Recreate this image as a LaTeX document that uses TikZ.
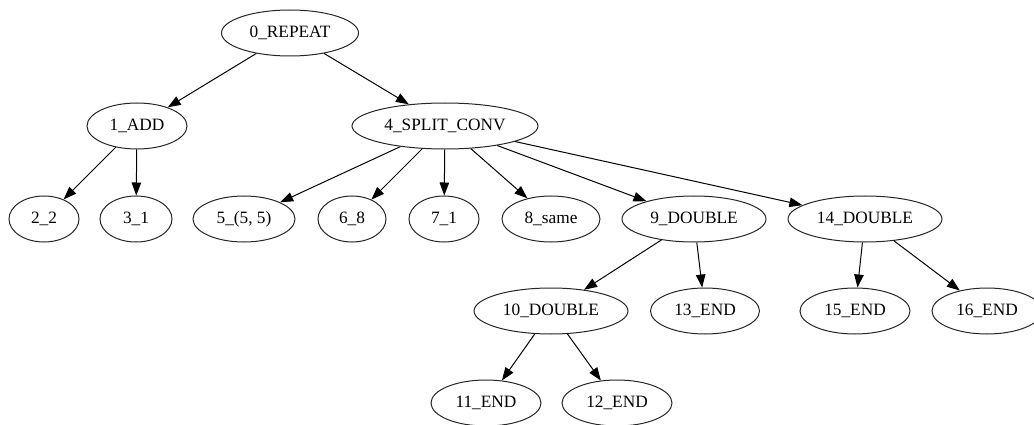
\documentclass[tikz,border=0pt]{standalone}
\usepackage{fontspec}
\setmainfont{Liberation Serif}
\usetikzlibrary{shapes.geometric,arrows.meta}
\tikzset{
  tnode/.style={draw=black!85, line width=1pt, ellipse, inner sep=0pt,
    minimum height=46pt, font=\fontsize{17.3}{19}\selectfont},
  edge/.style={draw=black, line width=1pt,
    -{Triangle[length=13pt,width=9.5pt]}},
}
\begin{document}
\begin{tikzpicture}[x=1pt,y=-1pt]
\useasboundingbox (0,0) rectangle (1034,425);
% rank 0
\node[tnode, minimum width=137pt] (n0) at (290,33) {0\_REPEAT};
% rank 1
\node[tnode, minimum width=100pt] (n1) at (137,126) {1\_ADD};
\node[tnode, minimum width=186pt] (n4) at (445,126) {4\_SPLIT\_CONV};
% rank 2
\node[tnode, minimum width=70pt]  (n2)  at (44,219)  {2\_2};
\node[tnode, minimum width=72pt]  (n3)  at (136,219) {3\_1};
\node[tnode, minimum width=102pt] (n5)  at (244,219) {5\_(5, 5)};
\node[tnode, minimum width=68pt]  (n6)  at (352,219) {6\_8};
\node[tnode, minimum width=70pt]  (n7)  at (444,219) {7\_1};
\node[tnode, minimum width=98pt]  (n8)  at (551,219) {8\_same};
\node[tnode, minimum width=144pt] (n9)  at (694,219) {9\_DOUBLE};
\node[tnode, minimum width=154pt] (n14) at (865,219) {14\_DOUBLE};
% rank 3
\node[tnode, minimum width=154pt] (n10) at (551,311) {10\_DOUBLE};
\node[tnode, minimum width=109pt] (n13) at (705,311) {13\_END};
\node[tnode, minimum width=110pt] (n15) at (855,311) {15\_END};
\node[tnode, minimum width=110pt] (n16) at (987,311) {16\_END};
% rank 4
\node[tnode, minimum width=110pt] (n11) at (486,403) {11\_END};
\node[tnode, minimum width=110pt] (n12) at (617,403) {12\_END};
% edges
\draw[edge] (n0) -- (n1);
\draw[edge] (n0) -- (n4);
\draw[edge] (n1) -- (n2);
\draw[edge] (n1) -- (n3);
\draw[edge] (n4) -- (n5);
\draw[edge] (n4) -- (n6);
\draw[edge] (n4) -- (n7);
\draw[edge] (n4) -- (n8);
\draw[edge] (n4) -- (n9);
\draw[edge] (n4) -- (n14);
\draw[edge] (n9) -- (n10);
\draw[edge] (n9) -- (n13);
\draw[edge] (n10) -- (n11);
\draw[edge] (n10) -- (n12);
\draw[edge] (n14) -- (n15);
\draw[edge] (n14) -- (n16);
\end{tikzpicture}
\end{document}
